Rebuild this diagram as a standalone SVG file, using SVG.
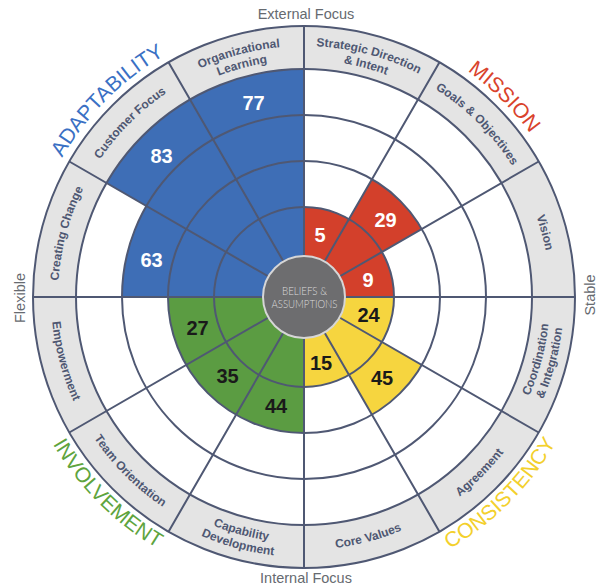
<svg xmlns="http://www.w3.org/2000/svg" xmlns:xlink="http://www.w3.org/1999/xlink" width="597" height="585" viewBox="0 0 597 585">
<style>
.grid{fill:none;stroke:#4f5873;stroke-width:2}
.lbl{font-family:"Liberation Sans",Arial,sans-serif;font-size:12px;font-weight:bold;fill:#4e5772;text-anchor:middle}
.num{font-family:"Liberation Sans",Arial,sans-serif;font-size:20px;font-weight:bold;text-anchor:middle}
.w{fill:#ffffff}.k{fill:#1a1a1a}
.cat{font-family:"Liberation Sans",Arial,sans-serif;font-size:21px;text-anchor:middle}
.axis{font-family:"Liberation Sans",Arial,sans-serif;font-size:14.5px;fill:#666a70;text-anchor:middle}
.blue{fill:#3e6eb6}.red{fill:#d3402b}.yel{fill:#f6d53f}.grn{fill:#5b9c42}
</style>
<defs>
<path id="t246" d="M90.96,174 A246,246 0 0 1 517.04,174"/>
<path id="t251" d="M86.63,171.5 A251,251 0 0 1 521.37,171.5"/>
<path id="t237" d="M98.75,178.5 A237,237 0 0 1 509.25,178.5"/>
<path id="t279" d="M62.38,157.5 A279,279 0 0 1 545.62,157.5"/>
<path id="b253" d="M84.9,423.5 A253,253 0 0 0 523.1,423.5"/>
<path id="b246" d="M90.96,420 A246,246 0 0 0 517.04,420"/>
<path id="b260" d="M78.83,427 A260,260 0 0 0 529.17,427"/>
<path id="b291" d="M51.99,442.5 A291,291 0 0 0 556.01,442.5"/>
</defs>
<g id="background">
<circle cx="304" cy="297" r="271" fill="#e4e4e4"/>
<circle cx="304" cy="297" r="228" fill="#ffffff"/>
</g>
<g id="strategic-direction">
<path class="red" d="M304,297 L304,207 A90,90 0 0 1 349,219.06 Z"/>
<text class="num w" x="320" y="241.5">5</text>
<g transform="rotate(15 304 297)"><text class="lbl"><textPath xlink:href="#t251" href="#t251" startOffset="50%">Strategic Direction</textPath></text><text class="lbl"><textPath xlink:href="#t237" href="#t237" startOffset="50%">&amp; Intent</textPath></text></g>
</g>
<g id="goals-objectives">
<path class="red" d="M304,297 L372,179.22 A136,136 0 0 1 421.78,229 Z"/>
<text class="num w" x="385.5" y="226.5">29</text>
<g transform="rotate(45 304 297)"><text class="lbl"><textPath xlink:href="#t246" href="#t246" startOffset="50%">Goals &amp; Objectives</textPath></text></g>
</g>
<g id="vision">
<path class="red" d="M304,297 L381.94,252 A90,90 0 0 1 394,297 Z"/>
<text class="num w" x="368" y="286.5">9</text>
<g transform="rotate(75 304 297)"><text class="lbl"><textPath xlink:href="#t246" href="#t246" startOffset="50%">Vision</textPath></text></g>
</g>
<g id="coordination-integration">
<path class="yel" d="M304,297 L394,297 A90,90 0 0 1 381.94,342 Z"/>
<text class="num k" x="368.5" y="322">24</text>
<g transform="rotate(-75 304 297)"><text class="lbl"><textPath xlink:href="#b246" href="#b246" startOffset="50%">Coordination</textPath></text><text class="lbl"><textPath xlink:href="#b260" href="#b260" startOffset="50%">&amp; Integration</textPath></text></g>
</g>
<g id="agreement">
<path class="yel" d="M304,297 L421.78,365 A136,136 0 0 1 372,414.78 Z"/>
<text class="num k" x="382" y="385">45</text>
<g transform="rotate(-45 304 297)"><text class="lbl"><textPath xlink:href="#b253" href="#b253" startOffset="50%">Agreement</textPath></text></g>
</g>
<g id="core-values">
<path class="yel" d="M304,297 L349,374.94 A90,90 0 0 1 304,387 Z"/>
<text class="num k" x="321" y="369.5">15</text>
<g transform="rotate(-15 304 297)"><text class="lbl"><textPath xlink:href="#b253" href="#b253" startOffset="50%">Core Values</textPath></text></g>
</g>
<g id="capability-development">
<path class="grn" d="M304,297 L304,433 A136,136 0 0 1 236,414.78 Z"/>
<text class="num k" x="276" y="412.5">44</text>
<g transform="rotate(15 304 297)"><text class="lbl"><textPath xlink:href="#b246" href="#b246" startOffset="50%">Capability</textPath></text><text class="lbl"><textPath xlink:href="#b260" href="#b260" startOffset="50%">Development</textPath></text></g>
</g>
<g id="team-orientation">
<path class="grn" d="M304,297 L236,414.78 A136,136 0 0 1 186.22,365 Z"/>
<text class="num k" x="227.5" y="382.5">35</text>
<g transform="rotate(45 304 297)"><text class="lbl"><textPath xlink:href="#b253" href="#b253" startOffset="50%">Team Orientation</textPath></text></g>
</g>
<g id="empowerment">
<path class="grn" d="M304,297 L186.22,365 A136,136 0 0 1 168,297 Z"/>
<text class="num k" x="197.5" y="334.5">27</text>
<g transform="rotate(75 304 297)"><text class="lbl"><textPath xlink:href="#b253" href="#b253" startOffset="50%">Empowerment</textPath></text></g>
</g>
<g id="creating-change">
<path class="blue" d="M304,297 L122,297 A182,182 0 0 1 146.38,206 Z"/>
<text class="num w" x="151.5" y="267">63</text>
<g transform="rotate(-75 304 297)"><text class="lbl"><textPath xlink:href="#t246" href="#t246" startOffset="50%">Creating Change</textPath></text></g>
</g>
<g id="customer-focus">
<path class="blue" d="M304,297 L106.55,183 A228,228 0 0 1 190,99.55 Z"/>
<text class="num w" x="161.5" y="162.5">83</text>
<g transform="rotate(-45 304 297)"><text class="lbl"><textPath xlink:href="#t246" href="#t246" startOffset="50%">Customer Focus</textPath></text></g>
</g>
<g id="organizational-learning">
<path class="blue" d="M304,297 L190,99.55 A228,228 0 0 1 304,69 Z"/>
<text class="num w" x="253.5" y="109.5">77</text>
<g transform="rotate(-15 304 297)"><text class="lbl"><textPath xlink:href="#t251" href="#t251" startOffset="50%">Organizational</textPath></text><text class="lbl"><textPath xlink:href="#t237" href="#t237" startOffset="50%">Learning</textPath></text></g>
</g>
<g id="connectors" class="grid">
<circle cx="304" cy="297" r="90"/>
<circle cx="304" cy="297" r="136"/>
<circle cx="304" cy="297" r="182"/>
<circle cx="304" cy="297" r="228"/>
<circle cx="304" cy="297" r="271"/>
<path d="M304,297 L304,26 M304,297 L439.5,62.31 M304,297 L538.69,161.5 M304,297 L575,297 M304,297 L538.69,432.5 M304,297 L439.5,531.69 M304,297 L304,568 M304,297 L168.5,531.69 M304,297 L69.31,432.5 M304,297 L33,297 M304,297 L69.31,161.5 M304,297 L168.5,62.31"/>
</g>
<g id="beliefs-assumptions">
<circle cx="304" cy="297" r="41" fill="#6d6d6f" stroke="#d6d6d6" stroke-width="2"/>
<text x="304.5" y="295" font-family="Lato,'Liberation Sans',sans-serif" font-weight="300" font-size="11" fill="#dcdcdc" text-anchor="middle" textLength="45" lengthAdjust="spacingAndGlyphs">BELIEFS &amp;</text>
<text x="304.5" y="308" font-family="Lato,'Liberation Sans',sans-serif" font-weight="300" font-size="11" fill="#dcdcdc" text-anchor="middle" textLength="66" lengthAdjust="spacingAndGlyphs">ASSUMPTIONS</text>
</g>
<g id="categories">
<g transform="rotate(-45 304 297)"><text class="cat" fill="#3a70c4"><textPath xlink:href="#t279" href="#t279" startOffset="50%">ADAPTABILITY</textPath></text></g>
<g transform="rotate(45 304 297)"><text class="cat" fill="#d9432c"><textPath xlink:href="#t279" href="#t279" startOffset="50%">MISSION</textPath></text></g>
<g transform="rotate(-45 304 297)"><text class="cat" fill="#f3d02c"><textPath xlink:href="#b291" href="#b291" startOffset="50%">CONSISTENCY</textPath></text></g>
<g transform="rotate(45 304 297)"><text class="cat" fill="#5ea43e"><textPath xlink:href="#b291" href="#b291" startOffset="50%">INVOLVEMENT</textPath></text></g>
</g>
<g id="axes">
<text class="axis" x="306" y="19">External Focus</text>
<text class="axis" x="306" y="583">Internal Focus</text>
<text class="axis" transform="translate(24.5 298) rotate(-90)">Flexible</text>
<text class="axis" transform="translate(594.5 295) rotate(-90)">Stable</text>
</g>
</svg>
